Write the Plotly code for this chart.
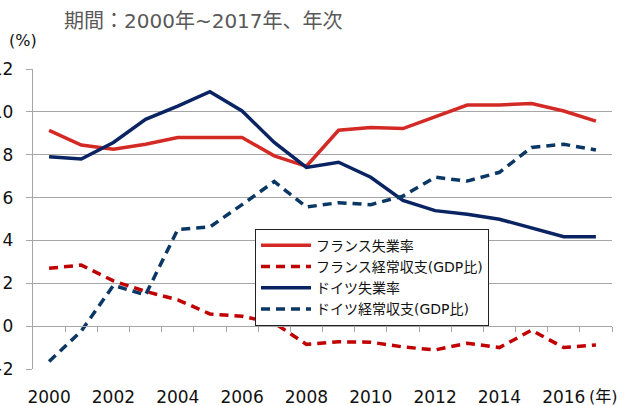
import plotly.graph_objects as go

years = list(range(2000, 2018))
france_unemp = [9.14, 8.45, 8.26, 8.49, 8.8, 8.8, 8.8, 7.95, 7.46, 9.14, 9.27, 9.22, 9.78, 10.32, 10.32, 10.39, 10.04, 9.57]
france_ca = [2.7, 2.85, 2.11, 1.62, 1.23, 0.57, 0.46, 0.15, -0.85, -0.73, -0.75, -0.97, -1.11, -0.8, -1.0, -0.19, -1.0, -0.88]
germany_unemp = [7.9, 7.8, 8.57, 9.65, 10.27, 10.94, 10.04, 8.57, 7.41, 7.65, 6.95, 5.87, 5.39, 5.22, 4.99, 4.56, 4.17, 4.17]
germany_ca = [-1.65, -0.23, 1.9, 1.46, 4.51, 4.63, 5.67, 6.75, 5.56, 5.76, 5.67, 6.07, 6.95, 6.77, 7.18, 8.34, 8.49, 8.22]

names = ["フランス失業率", "フランス経常収支(GDP比)", "ドイツ失業率", "ドイツ経常収支(GDP比)"]
colors = ["#d42a25", "#c00000", "#0a2463", "#0b3765"]
xtick_vals = list(range(2000, 2017, 2))
ytick_vals = list(range(-2, 13, 2))

FONT = "DejaVu Sans, Noto Sans CJK JP, sans-serif"

fig = go.Figure()
series = [france_unemp, france_ca, germany_unemp, germany_ca]
dashes = ["solid", "9px,6px", "solid", "9px,6px"]
for s, n, c, d in zip(series, names, colors, dashes):
    fig.add_trace(go.Scatter(x=years, y=s, name=n, mode="lines",
                             line=dict(color=c, width=3.5, dash=d)))

# secondary x-axis sitting on y=0 with category boundary ticks
fig.add_trace(go.Scatter(x=[years[0]], y=[0], xaxis="x2", mode="markers",
                         marker=dict(opacity=0), showlegend=False, hoverinfo="skip"))

fig.update_layout(
    width=630, height=406,
    margin=dict(l=33, r=18, t=69, b=37),
    paper_bgcolor="white", plot_bgcolor="white",
    font=dict(family=FONT, size=17, color="#111111"),
    xaxis=dict(range=[1999.5, 2017.5], tickvals=xtick_vals, ticktext=[str(v) for v in xtick_vals],
               showgrid=False, showline=False, ticks="", zeroline=False,
               ticklabelstandoff=16, automargin=False,
               tickfont=dict(size=17, family=FONT)),
    xaxis2=dict(range=[1999.5, 2017.5], overlaying="x", anchor="free", position=2/14,
                tickvals=[y + 0.5 for y in years], showticklabels=False,
                ticks="outside", ticklen=5, tickcolor="#a6a6a6", tickwidth=1,
                showline=True, linecolor="#a6a6a6", linewidth=1.3,
                showgrid=False, zeroline=False),
    yaxis=dict(range=[-2, 12], tickvals=ytick_vals, showgrid=True, gridcolor="#a6a6a6",
               gridwidth=1.3, zeroline=False, showline=True, linecolor="#a6a6a6", linewidth=1.3,
               ticks="outside", ticklen=6, tickcolor="#a6a6a6", ticklabelstandoff=9,
               automargin=False, tickfont=dict(size=17, family=FONT)),
    legend=dict(x=(255 - 33) / 579, y=(369.3 - 229) / 300, xanchor="left", yanchor="top",
                bgcolor="white", bordercolor="#222222", borderwidth=1,
                font=dict(size=14, family=FONT, color="#111111"),
                itemwidth=50, traceorder="normal"),
    showlegend=True,
    annotations=[
        dict(text="期間：2000年~2017年、年次", xref="paper", yref="paper",
             x=(62 - 33) / 579, y=1 + (69.3 - 21) / 300, xanchor="left", yanchor="middle",
             showarrow=False, font=dict(size=20, color="#595959", family=FONT)),
        dict(text="(%)", xref="paper", yref="paper",
             x=(7 - 33) / 579, y=1 + (69.3 - 41) / 300, xanchor="left", yanchor="middle",
             showarrow=False, font=dict(size=16, color="#111111", family=FONT)),
        dict(text="(年)", xref="paper", yref="paper",
             x=(587 - 33) / 579, y=-(397 - 369.3) / 300, xanchor="left", yanchor="middle",
             showarrow=False, font=dict(size=16, color="#111111", family=FONT)),
    ],
)

fig.write_html("out.html", config={"displayModeBar": False},
               post_script="document.body.style.margin='0';document.body.style.overflow='hidden';")
